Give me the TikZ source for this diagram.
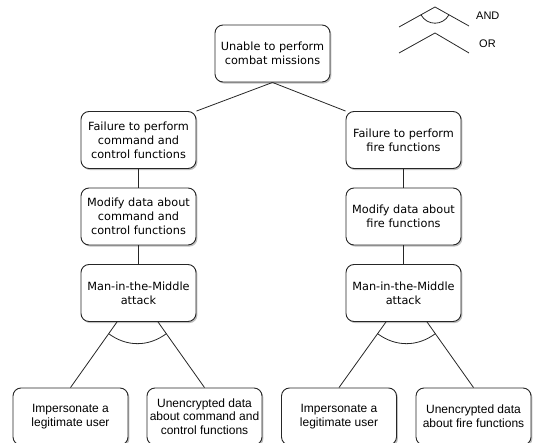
\documentclass[tikz,border=0pt]{standalone}
\usepackage{fontspec}
\usetikzlibrary{calc,shadows}
\newfontfamily\boxfont{DejaVu Sans}
\newfontfamily\leaffont{Liberation Sans}

\tikzset{
  goal/.style={draw=black!85, line width=0.9pt, fill=white, rounded corners=8pt,
    minimum width=115pt, minimum height=57pt, inner sep=0pt, align=center,
    font=\boxfont\fontsize{11.3}{14}\selectfont,
    drop shadow={shadow xshift=1.4pt, shadow yshift=-1.6pt, fill=black!45, opacity=.55}},
  leaf/.style={goal, font=\leaffont\fontsize{12}{13.6}\selectfont},
  link/.style={draw=black!85, line width=0.8pt},
  legendtext/.style={anchor=west, inner sep=0pt, font=\leaffont\fontsize{11}{13}\selectfont}
}

\begin{document}
\begin{tikzpicture}[x=1pt, y=-1pt]
  \useasboundingbox (0,0) rectangle (534,443);

  % legend: AND gate and OR gate symbols
  \coordinate (andL) at (399,27);
  \coordinate (andT) at (435,7);
  \coordinate (andR) at (469,26);
  \draw[link] (andL) -- (andT) -- (andR);
  \draw[link] ($(andL)!0.61!(andT)$) .. controls (427,26) and (443,26) .. ($(andR)!0.59!(andT)$);
  \node[legendtext] (andlabel) at (476,16) {AND};
  \coordinate (orL) at (399,53);
  \coordinate (orT) at (435,33);
  \coordinate (orR) at (469,53);
  \draw[link] (orL) -- (orT) -- (orR);
  \node[legendtext] (orlabel) at (479,43.5) {OR};

  % goal tree
  \node[goal] (top) at (272.5,53.5) {Unable to perform\\combat missions};

  \node[goal] (L1) at (138.5,140)   {Failure to perform\\command and\\control functions};
  \node[goal] (L2) at (138.5,216.5) {Modify data about\\command and\\control functions};
  \node[goal] (L3) at (138.5,293)   {Man-in-the-Middle\\attack};

  \node[goal] (R1) at (403.5,140)   {Failure to perform\\fire functions};
  \node[goal] (R2) at (403.5,216.5) {Modify data about\\fire functions};
  \node[goal] (R3) at (403.5,293)   {Man-in-the-Middle\\attack};

  \node[leaf] (B1) at (70.5,416.5)  {Impersonate a\\legitimate user};
  \node[leaf] (B2) at (204.5,416.5) {Unencrypted data\\about command and\\control functions};
  \node[leaf] (B3) at (339,416.5)   {Impersonate a\\legitimate user};
  \node[leaf] (B4) at (473.5,416.5) {Unencrypted data\\about fire functions};

  % OR branches
  \draw[link] (top.south) -- (L1.north east);
  \draw[link] (top.south) -- (R1.north west);
  \draw[link] (L1) -- (L2);
  \draw[link] (L2) -- (L3);
  \draw[link] (R1) -- (R2);
  \draw[link] (R2) -- (R3);

  % AND branches
  \coordinate (L3a) at ($(L3.south)+(-21.5,0)$);
  \coordinate (L3b) at ($(L3.south)+(19.5,0)$);
  \draw[link] (L3a) -- (B1.north);
  \draw[link] (L3b) -- (B2.north);
  \draw[link] ($(L3a)!0.179!(B1.north)$) .. controls ($(L3a)!0.179!(B1.north)+(18,13.3)$) and ($(L3b)!0.179!(B2.north)+(-18,13.3)$) .. ($(L3b)!0.179!(B2.north)$);

  \coordinate (R3a) at ($(R3.south)+(-17.5,0)$);
  \coordinate (R3b) at ($(R3.south)+(23.5,0)$);
  \draw[link] (R3a) -- (B3.north);
  \draw[link] (R3b) -- (B4.north);
  \draw[link] ($(R3a)!0.179!(B3.north)$) .. controls ($(R3a)!0.179!(B3.north)+(18,13.3)$) and ($(R3b)!0.179!(B4.north)+(-18,13.3)$) .. ($(R3b)!0.179!(B4.north)$);
\end{tikzpicture}
\end{document}
